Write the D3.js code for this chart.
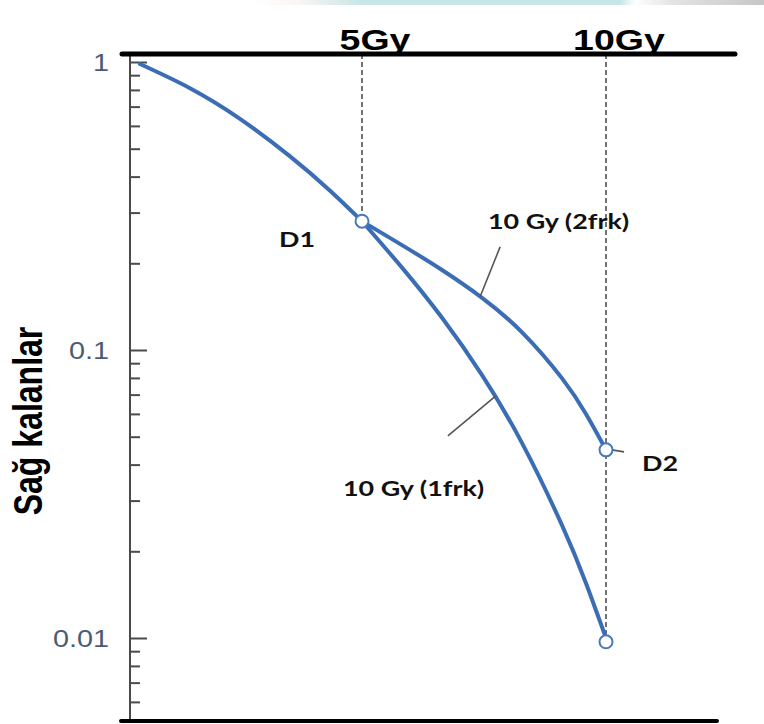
<!DOCTYPE html>
<html>
<head>
<meta charset="utf-8">
<script src="https://cdn.jsdelivr.net/npm/d3@7"></script>
<style>
  body { margin: 0; background: #fff; }
  svg { display: block; }
</style>
</head>
<body>
<div id="chart"></div>
<script>
// survival curves, values (dose in Gy, surviving fraction)
const doseShared = [0.45, 1.475, 2.50, 3.52, 4.34, 5.0];
const survShared = [0.984, 0.811, 0.635, 0.471, 0.358, 0.280];

const dose1frk = [5.0, 5.82, 6.64, 7.46, 8.28, 9.10, 9.59, 10.0];
const surv1frk = [0.280, 0.1932, 0.1294, 0.0818, 0.0475, 0.0246, 0.0155, 0.0100];

const dose2frk = [5.0, 5.82, 6.64, 7.46, 8.28, 9.10, 9.59, 10.0];
const surv2frk = [0.280, 0.2313, 0.1896, 0.1518, 0.1152, 0.0797, 0.0599, 0.0450];

// open circles: D1, D2 and the end of the single fraction curve
const markDose = [5, 10, 10];
const markSurv = [0.280, 0.045, 0.0097];

const doseTicks = [5, 10];
const doseLabels = ["5Gy", "10Gy"];

const yMajor = [1, 0.1, 0.01];
const yMajorLabels = ["1", "0.1", "0.01"];
const yMinor = [0.9, 0.8, 0.7, 0.6, 0.5, 0.4, 0.3, 0.2,
                0.09, 0.08, 0.07, 0.06, 0.05, 0.04, 0.03, 0.02,
                0.009, 0.008, 0.007, 0.006];

const yTitle = "Sağ kalanlar";

const W = 764, H = 724;
const blue = "#3b6db4";
const stretch = 1.25;   // the source picture is squeezed wider than tall

const svg = d3.select("#chart").append("svg")
  .attr("width", W)
  .attr("height", H);

// faint strip along the top edge (left over from the source screenshot)
const grad = svg.append("defs").append("linearGradient")
  .attr("id", "strip");
[[0, "#ffffff"], [0.09, "#fbf6f4"], [0.22, "#c7e6e6"], [0.72, "#c7e6e6"],
 [0.75, "#ffffff"], [0.82, "#e4e4e4"], [1, "#c6c6c6"]].forEach(s => {
  grad.append("stop").attr("offset", s[0]).attr("stop-color", s[1]);
});
svg.append("rect")
  .attr("x", 250).attr("y", 0)
  .attr("width", W - 250).attr("height", 5)
  .attr("fill", "url(#strip)");

const x = d3.scaleLinear().domain([0, 10]).range([118, 606]);
const y = d3.scaleLog().domain([0.01, 1]).range([638, 62]);

const axisX = 130, frameTop = 54, frameBottom = 721;

// y axis line
svg.append("line")
  .attr("x1", axisX).attr("x2", axisX)
  .attr("y1", frameTop).attr("y2", frameBottom)
  .attr("stroke", "#4a4a4a").attr("stroke-width", 2);

// minor ticks
svg.append("g")
  .attr("transform", `translate(${axisX},0)`)
  .call(d3.axisLeft(y).tickValues(yMinor).tickSize(-10).tickFormat(""))
  .call(g => g.select(".domain").remove())
  .call(g => g.selectAll(".tick line").attr("stroke", "#4a4a4a").attr("stroke-width", 2));

// major ticks with labels
const majorAxis = svg.append("g")
  .attr("transform", `translate(${axisX},0)`)
  .call(d3.axisLeft(y).tickValues(yMajor).tickSize(-17).tickPadding(21)
    .tickFormat((d, i) => yMajorLabels[i]))
  .call(g => g.select(".domain").remove())
  .call(g => g.selectAll(".tick line").attr("stroke", "#4a4a4a").attr("stroke-width", 2));

majorAxis.selectAll(".tick text")
  .attr("font-family", "Liberation Sans, Arial, sans-serif")
  .attr("font-size", 24)
  .attr("fill", "#4b5b74")
  .attr("dy", "0.36em")
  .each(function() {
    d3.select(this)
      .attr("textLength", this.getComputedTextLength() * 1.2)
      .attr("lengthAdjust", "spacingAndGlyphs");
  });

// dashed guides at 5 and 10 Gy
svg.append("line")
  .attr("x1", x(5)).attr("x2", x(5))
  .attr("y1", frameTop).attr("y2", y(markSurv[0]) - 6)
  .attr("stroke", "#444").attr("stroke-width", 1.5)
  .attr("stroke-dasharray", "5,3");
svg.append("line")
  .attr("x1", x(10)).attr("x2", x(10))
  .attr("y1", frameTop).attr("y2", y(markSurv[2]) - 6)
  .attr("stroke", "#444").attr("stroke-width", 1.5)
  .attr("stroke-dasharray", "5,3");

// thick frame lines
svg.append("line")
  .attr("x1", 122).attr("x2", 735)
  .attr("y1", frameTop).attr("y2", frameTop)
  .attr("stroke", "#000").attr("stroke-width", 5)
  .attr("stroke-linecap", "round");
svg.append("line")
  .attr("x1", 121).attr("x2", 717)
  .attr("y1", frameBottom).attr("y2", frameBottom)
  .attr("stroke", "#000").attr("stroke-width", 4)
  .attr("stroke-linecap", "round");

// curves
const line = d3.line()
  .x(d => x(d[0]))
  .y(d => y(d[1]))
  .curve(d3.curveNatural);

[[doseShared, survShared], [dose1frk, surv1frk], [dose2frk, surv2frk]].forEach(c => {
  svg.append("path")
    .datum(d3.zip(c[0], c[1]))
    .attr("d", line)
    .attr("fill", "none")
    .attr("stroke", blue)
    .attr("stroke-width", 4)
    .attr("stroke-linecap", "round");
});

// leader lines for the annotations
const leaders = [
  [[7.83, 0.228], [7.42, 0.153]],    // 10 Gy (2frk)
  [[6.76, 0.0503], [7.73, 0.069]],   // 10 Gy (1frk)
  [[10.12, 0.045], [10.37, 0.0443]]  // D2
];
leaders.forEach(l => {
  svg.append("line")
    .attr("x1", x(l[0][0])).attr("y1", y(l[0][1]))
    .attr("x2", x(l[1][0])).attr("y2", y(l[1][1]))
    .attr("stroke", "#555").attr("stroke-width", 1.6);
});

// open circles
svg.selectAll("circle.mark")
  .data(d3.zip(markDose, markSurv))
  .join("circle")
  .attr("class", "mark")
  .attr("cx", d => x(d[0]))
  .attr("cy", d => y(d[1]))
  .attr("r", 6.5)
  .attr("fill", "#fff")
  .attr("stroke", "#4a78c0")
  .attr("stroke-width", 2);

function stretchText(sel) {
  sel.each(function() {
    d3.select(this)
      .attr("textLength", this.getComputedTextLength() * stretch)
      .attr("lengthAdjust", "spacingAndGlyphs");
  });
}

// dose labels above the top line
doseTicks.forEach((d, i) => {
  svg.append("text")
    .attr("x", x(d) + 13)
    .attr("y", 50)
    .attr("text-anchor", "middle")
    .attr("font-family", "Liberation Sans, Arial, sans-serif")
    .attr("font-weight", "bold")
    .attr("font-size", 30)
    .attr("fill", "#000")
    .text(doseLabels[i])
    .call(stretchText);
});

// annotations
const notes = [
  ["D1", x(5) - 83, y(0.280) + 26],
  ["10 Gy (2frk)", 488, 229],
  ["10 Gy (1frk)", 343, 496],
  ["D2", x(10) + 36, y(0.045) + 21]
];
notes.forEach(n => {
  svg.append("text")
    .attr("x", n[1])
    .attr("y", n[2])
    .attr("font-family", "Lato, 'Open Sans', sans-serif")
    .attr("font-weight", "bold")
    .attr("font-size", 21.5)
    .attr("fill", "#111")
    .text(n[0])
    .call(stretchText);
});

// y title
svg.append("text")
  .attr("transform", `translate(42,421) scale(${stretch},1) rotate(-90)`)
  .attr("text-anchor", "middle")
  .attr("font-family", "Liberation Sans, Arial, sans-serif")
  .attr("font-weight", "bold")
  .attr("font-size", 32)
  .attr("fill", "#000")
  .text(yTitle);
</script>
</body>
</html>
